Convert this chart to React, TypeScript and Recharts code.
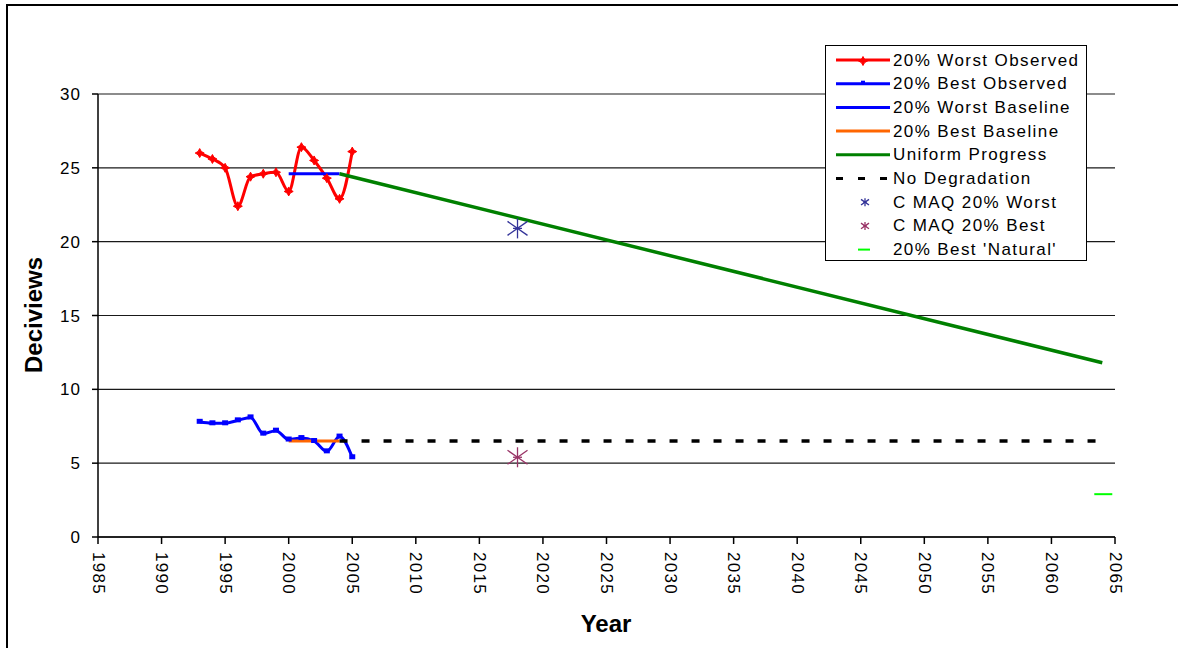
import * as React from 'react'
import {
  ComposedChart,
  Line,
  Scatter,
  XAxis,
  YAxis,
  CartesianGrid
} from 'recharts'

const obsYears = [1993, 1994, 1995, 1996, 1997, 1998, 1999, 2000, 2001, 2002, 2003, 2004, 2005]
const worstObserved = [26.0, 25.6, 25.0, 22.4, 24.4, 24.6, 24.7, 23.4, 26.4, 25.5, 24.3, 22.9, 26.1]
const bestObserved = [7.8, 7.7, 7.7, 7.9, 8.1, 7.0, 7.2, 6.6, 6.7, 6.5, 5.8, 6.8, 5.4]

const baselineYears = [2000, 2004]
const worstBaseline = [24.6, 24.6]
const bestBaseline = [6.5, 6.5]

const progressYears = [2004, 2064]
const uniformProgress = [24.6, 11.8]
const noDegradation = [6.5, 6.5]

const cmaqYears = [2018]
const cmaqWorst = [20.9]
const cmaqBest = [5.4]

const naturalYears = [2064]
const bestNatural = [2.9]

const xTicks = [1985, 1990, 1995, 2000, 2005, 2010, 2015, 2020, 2025, 2030, 2035, 2040, 2045, 2050, 2055, 2060, 2065]
const yTicks = [0, 5, 10, 15, 20, 25, 30]

const FONT = '"Liberation Sans", Arial, sans-serif'

const pts = (xs: number[], ys: number[]) => xs.map((x, i) => ({ x, y: ys[i] }))

function RedStar({ cx, cy }: { cx?: number; cy?: number }) {
  if (cx == null || cy == null) return null
  const d = `M${cx},${cy - 4.5} L${cx + 1.6},${cy - 1.6} L${cx + 4.5},${cy} L${cx + 1.6},${cy + 1.6} L${cx},${cy + 4.5} L${cx - 1.6},${cy + 1.6} L${cx - 4.5},${cy} L${cx - 1.6},${cy - 1.6} Z`
  return <path d={d} fill='#ff0000' stroke='#ff0000' strokeWidth={1} />
}

function BlueSquare({ cx, cy }: { cx?: number; cy?: number }) {
  if (cx == null || cy == null) return null
  return <rect x={cx - 3} y={cy - 3} width={6} height={5} fill='#0000ff' />
}

function Asterisk({ cx, cy, color, r = 10 }: { cx: number; cy: number; color: string; r?: number }) {
  return (
    <g stroke={color} strokeWidth={1.3}>
      <line x1={cx} y1={cy - r} x2={cx} y2={cy + r} />
      <line x1={cx - r} y1={cy - r * 0.7} x2={cx + r} y2={cy + r * 0.7} />
      <line x1={cx - r} y1={cy + r * 0.7} x2={cx + r} y2={cy - r * 0.7} />
      <line x1={cx - r * 0.45} y1={cy} x2={cx + r * 0.45} y2={cy} />
    </g>
  )
}

function XTick({ x, y, payload }: any) {
  return (
    <text
      x={x}
      y={y}
      transform={`rotate(90, ${x}, ${y})`}
      dx={2}
      dominantBaseline='central'
      textAnchor='start'
      fontFamily={FONT}
      fontSize={17}
      letterSpacing={1.3}
      fill='#000'
    >
      {payload.value}
    </text>
  )
}

const legendRows = [
  { label: '20% Worst Observed', kind: 'redObs' },
  { label: '20% Best Observed', kind: 'blueObs' },
  { label: '20% Worst Baseline', kind: 'blueLine' },
  { label: '20% Best Baseline', kind: 'orangeLine' },
  { label: 'Uniform Progress', kind: 'greenLine' },
  { label: 'No Degradation', kind: 'dash' },
  { label: 'C MAQ 20% Worst', kind: 'astWorst' },
  { label: 'C MAQ 20% Best', kind: 'astBest' },
  { label: "20% Best 'Natural'", kind: 'natural' }
]

function LegendBox() {
  return (
    <div
      style={{
        position: 'absolute',
        left: 825,
        top: 45,
        width: 262,
        height: 216,
        boxSizing: 'border-box',
        border: '1.5px solid #000',
        background: '#fff'
      }}
    >
      <svg width={260} height={213}>
        {legendRows.map((row, i) => {
          const cy = 14 + i * 23.7
          let mark: React.ReactNode = null
          if (row.kind === 'redObs') {
            mark = (
              <g>
                <line x1={10} x2={64} y1={cy} y2={cy} stroke='#ff0000' strokeWidth={3} />
                <RedStar cx={37} cy={cy + 1} />
              </g>
            )
          } else if (row.kind === 'blueObs') {
            mark = (
              <g>
                <line x1={10} x2={64} y1={cy} y2={cy} stroke='#0000ff' strokeWidth={3} />
                <rect x={35} y={cy - 3} width={4} height={3} fill='#0000ff' />
              </g>
            )
          } else if (row.kind === 'blueLine') {
            mark = <line x1={10} x2={64} y1={cy} y2={cy} stroke='#0000ff' strokeWidth={3} />
          } else if (row.kind === 'orangeLine') {
            mark = <line x1={10} x2={64} y1={cy} y2={cy} stroke='#ff6600' strokeWidth={3} />
          } else if (row.kind === 'greenLine') {
            mark = <line x1={10} x2={64} y1={cy} y2={cy} stroke='#008000' strokeWidth={3} />
          } else if (row.kind === 'dash') {
            mark = <line x1={10} x2={64} y1={cy} y2={cy} stroke='#000' strokeWidth={3} strokeDasharray='7 15' />
          } else if (row.kind === 'astWorst') {
            mark = <Asterisk cx={39} cy={cy} color='#333399' r={4} />
          } else if (row.kind === 'astBest') {
            mark = <Asterisk cx={39} cy={cy} color='#993366' r={4} />
          } else {
            mark = <line x1={32} x2={44} y1={cy} y2={cy} stroke='#00ff00' strokeWidth={2} />
          }
          return (
            <g key={row.label}>
              {mark}
              <text
                x={67}
                y={cy}
                dominantBaseline='central'
                fontFamily={FONT}
                fontSize={17}
                letterSpacing={1.4}
                fill='#000'
              >
                {row.label}
              </text>
            </g>
          )
        })}
      </svg>
    </div>
  )
}

export default function App() {
  return (
    <div style={{ position: 'absolute', left: 0, top: 0, width: 1178, height: 648, background: '#fff', overflow: 'hidden' }}>
      <div
        style={{
          position: 'absolute',
          left: 6,
          top: 4,
          width: 1172,
          height: 644,
          borderTop: '2px solid #000',
          borderLeft: '2px solid #000'
        }}
      />
      <div style={{ position: 'absolute', left: 0, top: 0 }}>
        <ComposedChart width={1178} height={648} margin={{ top: 94, right: 63, left: 0, bottom: 0 }}>
          <CartesianGrid vertical={false} stroke='#000' strokeOpacity={0.9} strokeWidth={1.2} />
          <XAxis
            type='number'
            dataKey='x'
            domain={[1985, 2065]}
            ticks={xTicks}
            interval={0}
            height={111}
            tick={<XTick />}
            tickSize={7}
            tickMargin={6}
            axisLine={{ stroke: '#000', strokeWidth: 1.5 }}
            tickLine={{ stroke: '#000', strokeWidth: 1.5 }}
            allowDataOverflow
            label={{
              content: () => (
                <text x={606} y={632} textAnchor='middle' fontFamily={FONT} fontWeight='bold' fontSize={24} fill='#000'>
                  Year
                </text>
              )
            }}
          />
          <YAxis
            type='number'
            dataKey='y'
            domain={[0, 30]}
            ticks={yTicks}
            interval={0}
            width={98}
            tickSize={6}
            tickMargin={11}
            tick={{ fontFamily: FONT, fontSize: 17, fill: '#000', letterSpacing: 1 }}
            axisLine={{ stroke: '#000', strokeWidth: 1.5 }}
            tickLine={{ stroke: '#000', strokeWidth: 1.5 }}
            label={{
              content: () => (
                <text
                  x={42}
                  y={315}
                  transform='rotate(-90, 42, 315)'
                  textAnchor='middle'
                  fontFamily={FONT}
                  fontWeight='bold'
                  fontSize={24}
                  fill='#000'
                >
                  Deciviews
                </text>
              )
            }}
          />
          <Line
            data={pts(obsYears, worstObserved)}
            dataKey='y'
            type='monotone'
            stroke='#ff0000'
            strokeWidth={3}
            dot={(p: any) => <RedStar key={`r${p.index}`} cx={p.cx} cy={p.cy} />}
            activeDot={false}
            isAnimationActive={false}
          />
          <Line
            data={pts(obsYears, bestObserved)}
            dataKey='y'
            type='monotone'
            stroke='#0000ff'
            strokeWidth={3}
            dot={(p: any) => <BlueSquare key={`b${p.index}`} cx={p.cx} cy={p.cy} />}
            activeDot={false}
            isAnimationActive={false}
          />
          <Line
            data={pts(baselineYears, worstBaseline)}
            dataKey='y'
            type='linear'
            stroke='#0000ff'
            strokeWidth={3}
            dot={false}
            activeDot={false}
            isAnimationActive={false}
          />
          <Line
            data={pts(baselineYears, bestBaseline)}
            dataKey='y'
            type='linear'
            stroke='#ff6600'
            strokeWidth={3}
            dot={false}
            activeDot={false}
            isAnimationActive={false}
          />
          <Line
            data={pts(progressYears, uniformProgress)}
            dataKey='y'
            type='linear'
            stroke='#008000'
            strokeWidth={3.5}
            dot={false}
            activeDot={false}
            isAnimationActive={false}
          />
          <Line
            data={pts(progressYears, noDegradation)}
            dataKey='y'
            type='linear'
            stroke='#000'
            strokeWidth={3.5}
            strokeDasharray='8 14'
            dot={false}
            activeDot={false}
            isAnimationActive={false}
          />
          <Scatter
            data={pts(cmaqYears, cmaqWorst)}
            dataKey='y'
            isAnimationActive={false}
            shape={(p: any) => <Asterisk cx={p.cx} cy={p.cy} color='#333399' r={10} />}
          />
          <Scatter
            data={pts(cmaqYears, cmaqBest)}
            dataKey='y'
            isAnimationActive={false}
            shape={(p: any) => <Asterisk cx={p.cx} cy={p.cy} color='#993366' r={10} />}
          />
          <Scatter
            data={pts(naturalYears, bestNatural)}
            dataKey='y'
            isAnimationActive={false}
            shape={(p: any) => (
              <line x1={p.cx - 8} x2={p.cx + 10} y1={p.cy} y2={p.cy} stroke='#00ff00' strokeWidth={2} />
            )}
          />
        </ComposedChart>
      </div>
      <LegendBox />
    </div>
  )
}
